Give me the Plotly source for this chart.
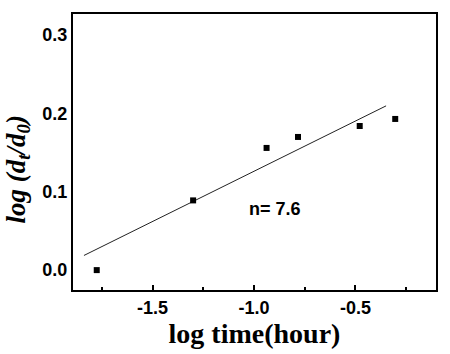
import plotly.graph_objects as go

# data
log_time = [-1.775, -1.30, -0.938, -0.783, -0.479, -0.304]
log_ratio = [0.000, 0.089, 0.156, 0.170, 0.184, 0.193]
fit_x = [-1.838, -0.349]
fit_y = [0.0187, 0.2097]
x_ticks = [-1.5, -1.0, -0.5]
x_minor = [-1.75, -1.25, -0.75, -0.25]
y_ticks = [0.0, 0.1, 0.2, 0.3]

fig = go.Figure()
fig.add_trace(go.Scatter(x=fit_x, y=fit_y, mode="lines",
                         line=dict(color="#222", width=1), showlegend=False))
fig.add_trace(go.Scatter(x=log_time, y=log_ratio, mode="markers",
                         marker=dict(symbol="square", size=6, color="black"),
                         showlegend=False))

fig.add_annotation(x=-0.897, y=0.0775, text="<b>n= 7.6</b>", showarrow=False,
                   font=dict(family="Liberation Sans, Arial", size=18, color="black"))

# y-axis title as rotated annotation
fig.add_annotation(xref="paper", yref="paper", x=-0.151, y=0.437,
                   xanchor="center", yanchor="middle", textangle=-90, showarrow=False,
                   text="<b><i>log (d<sub>t</sub>/d<sub>0</sub>)</i></b>",
                   font=dict(family="Liberation Serif, Times New Roman", size=27, color="black"))

fig.update_layout(
    width=450, height=354,
    margin=dict(l=73, r=12, t=13, b=64),
    plot_bgcolor="white", paper_bgcolor="white",
    xaxis=dict(range=[-1.892, -0.103], tickvals=x_ticks,
               ticktext=["<b>-1.5</b>", "<b>-1.0</b>", "<b>-0.5</b>"],
               ticks="inside", ticklen=5, tickwidth=1.5, tickcolor="black",
               minor=dict(tickvals=x_minor, ticks="inside", ticklen=3, tickwidth=1.5, tickcolor="black"),
               showline=True, linecolor="black", linewidth=2, mirror=True,
               showgrid=False, zeroline=False,
               tickfont=dict(family="Liberation Sans, Arial", size=18, color="black"),
               title=dict(text="<b>log time(hour)</b>", standoff=4,
                          font=dict(family="Liberation Serif, Times New Roman", size=28, color="black"))),
    yaxis=dict(range=[-0.0254, 0.327], tickvals=y_ticks,
               ticktext=["<b>0.0</b>", "<b>0.1</b>", "<b>0.2</b>", "<b>0.3</b>"],
               ticks="", showline=True, linecolor="black", linewidth=2, mirror=True,
               showgrid=False, zeroline=False,
               tickfont=dict(family="Liberation Sans, Arial", size=18, color="black")),
)

fig.write_html("out.html")
